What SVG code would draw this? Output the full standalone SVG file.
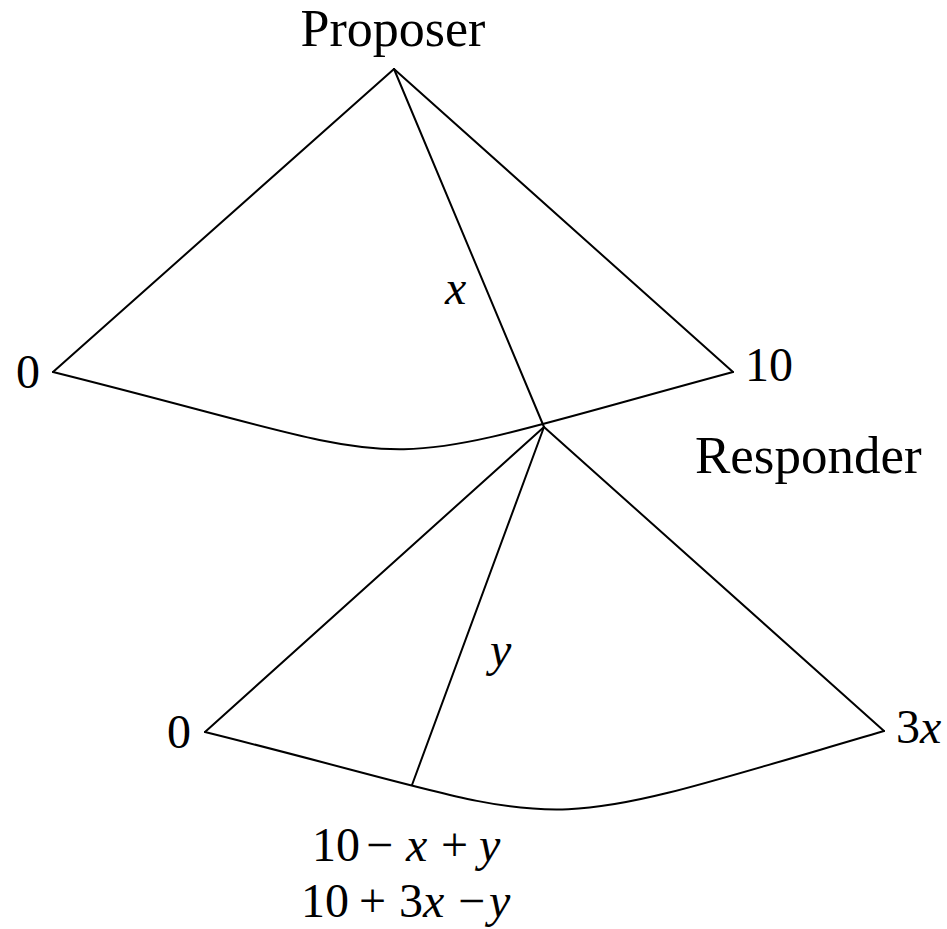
<svg xmlns="http://www.w3.org/2000/svg" width="947" height="929" viewBox="0 0 947 929">
<style>
.ln{fill:none;stroke:#000;stroke-width:2;stroke-linecap:round;stroke-linejoin:round}
text{font-family:"Liberation Serif","Times New Roman",serif;font-size:48px;fill:#000}
.w{font-size:52px}
.it{font-style:italic}
</style>
<rect width="947" height="929" fill="#fff"/>
<g id="connectors">
<line class="ln" x1="394" y1="69" x2="53" y2="372"/>
<line class="ln" x1="394" y1="69" x2="733" y2="372"/>
<line class="ln" x1="394" y1="69" x2="544" y2="427"/>
<path class="ln" d="M53,372 C453,472 340,478 733,372"/>
<line class="ln" x1="544" y1="427" x2="205" y2="732"/>
<line class="ln" x1="544" y1="427" x2="884" y2="731"/>
<line class="ln" x1="544" y1="427" x2="412" y2="785"/>
<path class="ln" d="M205,732 C595,829 505,842 884,731"/>
</g>
<g id="proposer"><text class="w" x="393" y="46" text-anchor="middle">Proposer</text></g>
<g id="responder"><text class="w" x="695" y="473" style="font-size:53px">Responder</text></g>
<g id="label-0-top"><text x="16" y="388">0</text></g>
<g id="label-10"><text x="745" y="381">10</text></g>
<g id="label-x"><text class="it" x="445" y="304">x</text></g>
<g id="label-y"><text class="it" x="490" y="666">y</text></g>
<g id="label-0-bottom"><text x="167" y="748">0</text></g>
<g id="label-3x"><text x="896" y="743">3<tspan class="it">x</tspan></text></g>
<g id="payoff">
<text y="861"><tspan x="312">10</tspan><tspan x="366">&#8722;</tspan><tspan class="it" x="406">x</tspan><tspan x="441">+</tspan><tspan class="it" x="479">y</tspan></text>
<text y="917"><tspan x="301">10</tspan><tspan x="359">+</tspan><tspan x="399">3<tspan class="it">x</tspan></tspan><tspan x="458">&#8722;</tspan><tspan class="it" x="489">y</tspan></text>
</g>
</svg>
